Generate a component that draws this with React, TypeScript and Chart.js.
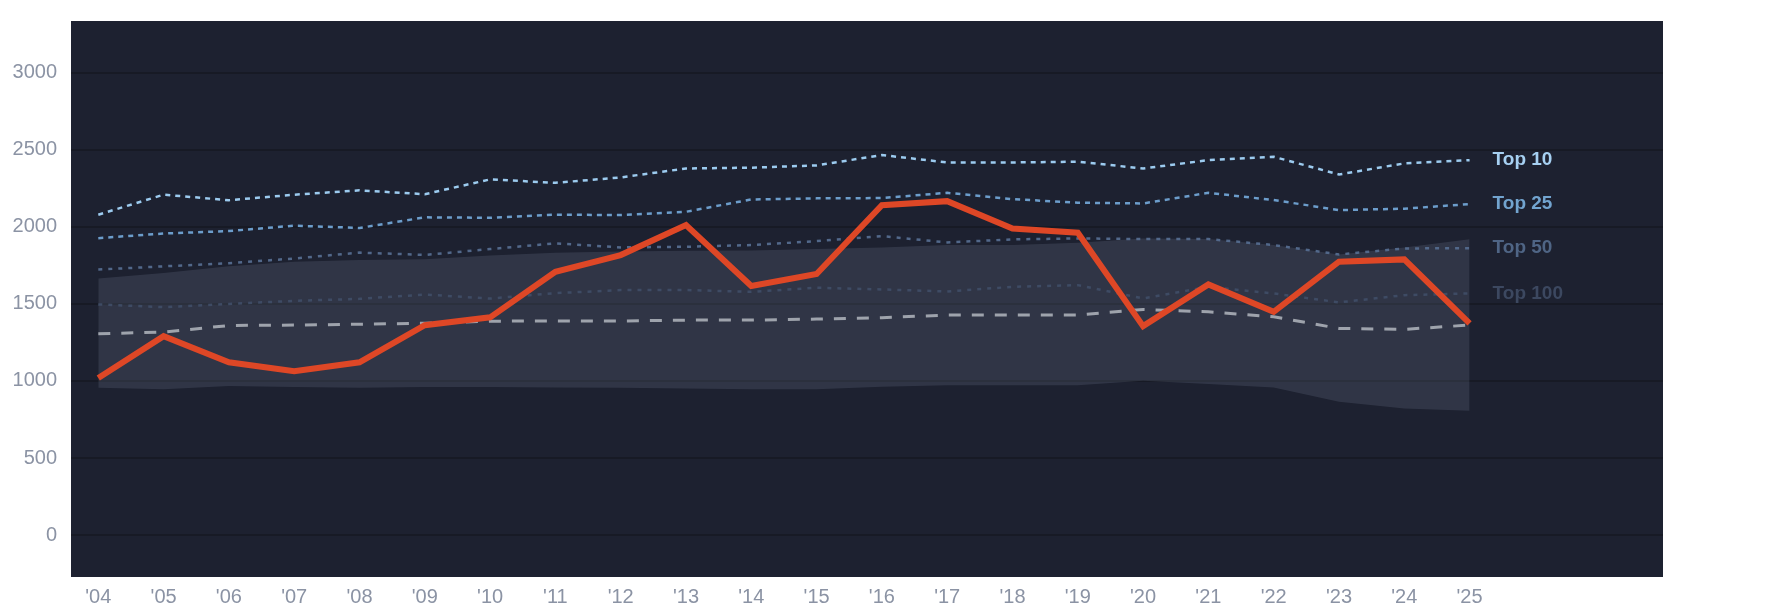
import { useEffect, useRef } from 'react';
import Chart from 'chart.js/auto';

const years = [2004, 2005, 2006, 2007, 2008, 2009, 2010, 2011, 2012, 2013, 2014, 2015, 2016, 2017, 2018, 2019, 2020, 2021, 2022, 2023, 2024, 2025];
const yTicks = [0, 500, 1000, 1500, 2000, 2500, 3000];

const main = [1019, 1291, 1121, 1063, 1121, 1362, 1413, 1708, 1817, 2012, 1616, 1694, 2141, 2167, 1990, 1962, 1356, 1627, 1449, 1774, 1789, 1374];
const top10 = [2079, 2209, 2173, 2209, 2237, 2212, 2308, 2286, 2321, 2379, 2384, 2399, 2466, 2418, 2418, 2423, 2379, 2433, 2455, 2340, 2412, 2433];
const top25 = [1927, 1957, 1973, 2008, 1993, 2062, 2059, 2079, 2077, 2098, 2178, 2185, 2187, 2221, 2180, 2157, 2152, 2221, 2174, 2109, 2118, 2148];
const top50 = [1723, 1744, 1764, 1795, 1833, 1818, 1856, 1893, 1867, 1871, 1882, 1908, 1940, 1899, 1919, 1925, 1921, 1921, 1882, 1821, 1860, 1862];
const top100 = [1497, 1479, 1500, 1520, 1533, 1561, 1535, 1570, 1590, 1590, 1579, 1605, 1594, 1581, 1611, 1622, 1536, 1611, 1568, 1510, 1557, 1568];
const median = [1307, 1317, 1360, 1363, 1368, 1375, 1388, 1390, 1389, 1395, 1395, 1402, 1411, 1428, 1428, 1428, 1464, 1449, 1417, 1341, 1335, 1363];
const bandHigh = [1665, 1701, 1744, 1774, 1785, 1790, 1815, 1832, 1840, 1845, 1847, 1856, 1867, 1882, 1882, 1897, 1925, 1921, 1882, 1821, 1866, 1919];
const bandLow = [956, 946, 968, 961, 956, 961, 961, 958, 956, 952, 946, 946, 962, 973, 973, 973, 1001, 980, 958, 865, 822, 807];

const FONT = '"Liberation Sans", Arial, Helvetica, sans-serif';

const pts = (vals: number[]) => years.map((x, i) => ({ x, y: vals[i] }));

// dark plot background
const bgPlugin = {
  id: 'plotBg',
  beforeDraw(chart: any) {
    const { ctx, chartArea: a } = chart;
    ctx.save();
    ctx.fillStyle = '#1d2130';
    ctx.fillRect(a.left, a.top, a.right - a.left, a.bottom - a.top);
    ctx.restore();
  },
};

// "Top N" labels at the end of each line
const endLabels = {
  id: 'endLabels',
  afterDatasetsDraw(chart: any) {
    const { ctx } = chart;
    const xs = chart.scales.x;
    ctx.save();
    ctx.font = 'bold 19px ' + FONT;
    ctx.textBaseline = 'middle';
    ctx.textAlign = 'left';
    chart.data.datasets.forEach((ds: any, i: number) => {
      if (!ds.endLabel) return;
      const meta = chart.getDatasetMeta(i);
      const last = meta.data[meta.data.length - 1];
      ctx.fillStyle = ds.labelColor;
      ctx.fillText(ds.endLabel, xs.getPixelForValue(2025) + 23, last.y);
    });
    ctx.restore();
  },
};

const ShareChart = () => {
  const canvasRef = useRef<HTMLCanvasElement | null>(null);

  useEffect(() => {
    if (!canvasRef.current) return;
    const line = (vals: number[], color: string, width: number, dash: number[], order: number) => ({
      data: pts(vals),
      borderColor: color,
      borderWidth: width,
      borderDash: dash,
      pointRadius: 0,
      fill: false,
      order,
    });

    const chart = new Chart(canvasRef.current, {
      type: 'line',
      data: {
        datasets: [
          { data: pts(bandLow), borderWidth: 0, borderColor: 'transparent', pointRadius: 0, fill: false, order: 20 },
          {
            data: pts(bandHigh),
            borderWidth: 0,
            borderColor: 'transparent',
            pointRadius: 0,
            fill: 0,
            backgroundColor: 'rgba(120,128,150,0.22)',
            order: 19,
          },
          line(median, '#9ea3ac', 3, [12, 11], 6),
          { ...line(top100, '#3e4b64', 2.5, [4, 6], 5), endLabel: 'Top 100', labelColor: '#3c4860' },
          { ...line(top50, '#52688a', 2.5, [4, 6], 4), endLabel: 'Top 50', labelColor: '#4f6585' },
          { ...line(top25, '#6c9dcb', 2.5, [5, 5], 3), endLabel: 'Top 25', labelColor: '#72a4cf' },
          { ...line(top10, '#9ccbef', 2.5, [5, 5], 2), endLabel: 'Top 10', labelColor: '#a6d0f2' },
          line(main, '#de4726', 6, [], 0),
        ] as any,
      },
      options: {
        animation: false,
        responsive: true,
        maintainAspectRatio: false,
        layout: { padding: { top: 13, right: 114, left: 0, bottom: 0 } },
        plugins: {
          legend: { display: false },
          tooltip: { enabled: false },
        },
        scales: {
          x: {
            type: 'linear',
            min: 2003.582,
            max: 2027.962,
            grid: { display: false, drawTicks: false },
            border: { display: false },
            afterBuildTicks: (axis: any) => {
              axis.ticks = years.map((v) => ({ value: v }));
            },
            afterFit: (axis: any) => {
              axis.height = 29;
              axis.paddingLeft = 0;
              axis.paddingRight = 0;
            },
            ticks: {
              autoSkip: false,
              maxRotation: 0,
              padding: 8,
              color: '#8b93a4',
              font: { family: FONT, size: 20 },
              callback: (v: any) => "'" + String(v).slice(2),
            },
          },
          y: {
            min: -272,
            max: 3336,
            grid: { color: '#171a25', lineWidth: 2, drawTicks: false },
            border: { display: false },
            afterBuildTicks: (axis: any) => {
              axis.ticks = yTicks.map((v) => ({ value: v }));
            },
            afterFit: (axis: any) => {
              axis.width = 63;
              axis.paddingTop = 0;
              axis.paddingBottom = 0;
            },
            ticks: {
              padding: 14,
              color: '#8b93a4',
              font: { family: FONT, size: 20 },
              callback: (v: any) => String(v),
            },
          },
        },
      },
      plugins: [bgPlugin, endLabels],
    });
    return () => {
      chart.destroy();
    };
  }, []);

  return (
    <div style={{ position: 'relative', height: 598 }}>
      <canvas ref={canvasRef} />
    </div>
  );
};

export default function App() {
  return <ShareChart />;
}
